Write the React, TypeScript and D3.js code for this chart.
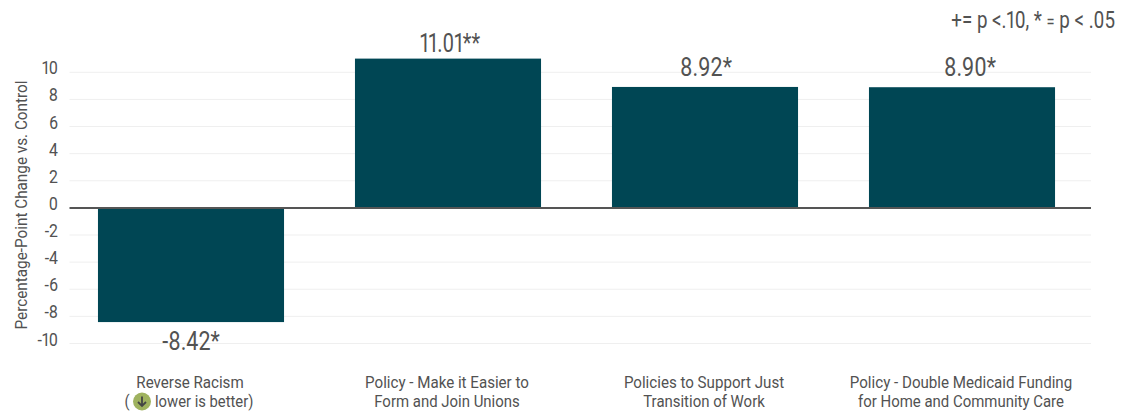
import React from "react";
import * as d3 from "d3";

const categories = ["Reverse Racism", "Policy - Make it Easier to", "Policies to Support Just", "Policy - Double Medicaid Funding"];
const secondLines = ["", "Form and Join Unions", "Transition of Work", "for Home and Community Care"];
const values = [-8.42, 11.01, 8.92, 8.9];
const valueLabels = ["-8.42*", "11.01**", "8.92*", "8.90*"];
const yTicks = [10, 8, 6, 4, 2, 0, -2, -4, -6, -8, -10];

const FONT = "Roboto, sans-serif";
const TEXT = "#525252";

// Roboto squeezed horizontally about its anchor point, to get a condensed grotesque look.
function Narrow({ x, y, k = 0.88, rotate = 0, anchor = "middle", size, children }: any) {
  return (
    <text
      transform={`translate(${x},${y}) rotate(${rotate}) scale(${k},1)`}
      textAnchor={anchor}
      fontSize={size}
      fill={TEXT}
      style={{ fontFeatureSettings: "'pnum'" }}
    >
      {children}
    </text>
  );
}

export default function App() {
  const y = d3.scaleLinear().domain([-10, 10]).range([343.5, 72.3]);
  const x = d3.scaleBand<number>().domain(d3.range(categories.length)).range([62.5, 1090.5]).paddingInner(0.276).paddingOuter(0.138);
  // The tallest bar's label sits closer to the bar so it stays under the note line.
  const labelY = (v: number) => (v < 0 ? y(v) + 28 : v > 10 ? y(v) - 7 : y(v) - 11);
  // Horizontal nudge of each value label away from its bar's centre.
  const labelDx = (i: number) => (i === 3 ? 8 : i === 2 || i === 1 ? (i === 1 ? 2 : 1) : 0);
  return (
    <svg width={1135} height={413} style={{ position: "absolute", left: 0, top: 0, display: "block" }} fontFamily={FONT}>
      <rect width={1135} height={413} fill="#fff" />
      {yTicks.filter((t) => t !== 0).map((t) => (
        <line key={t} x1={69.5} x2={1091} y1={y(t)} y2={y(t)} stroke="#efefef" strokeWidth={1} />
      ))}
      {yTicks.map((t) => (
        <Narrow key={t} x={58} y={y(t) + 2} anchor="end" size={18}>{t}</Narrow>
      ))}
      <Narrow x={27} y={205} rotate={-90} size={17} k={0.9}>Percentage-Point Change vs. Control</Narrow>
      {values.map((v, i) => (
        <rect key={i} x={x(i)} width={x.bandwidth()} y={Math.min(y(v), y(0))} height={Math.abs(y(v) - y(0))} fill="#004654" />
      ))}
      <line x1={69.5} x2={1091} y1={y(0)} y2={y(0)} stroke="#555" strokeWidth={2} />
      {values.map((v, i) => (
        <Narrow key={i} x={x(i)! + x.bandwidth() / 2 + labelDx(i)} y={labelY(v)} size={25} k={v > 10 ? 0.8 : 0.86}>{valueLabels[i]}</Narrow>
      ))}
      {categories.map((c, i) => {
        const cx = x(i)! + x.bandwidth() / 2;
        return (
          <g key={i}>
            <Narrow x={cx - 1} y={388} size={17} k={0.89}>{c}</Narrow>
            {i === 0 ? (
              <g>
                <Narrow x={127} y={407} size={17} k={0.87}>(</Narrow>
                <circle cx={142} cy={401.5} r={9} fill="#9fb25f" />
                <path d="M142 396.5v9.5M138 402l4 4l4 -4" fill="none" stroke="#444" strokeWidth={1.8} />
                <Narrow x={155} y={407} size={17} k={0.87} anchor="start">lower is better)</Narrow>
              </g>
            ) : (
              <Narrow x={cx - 1} y={407} size={17} k={0.88}>{secondLines[i]}</Narrow>
            )}
          </g>
        );
      })}
      <Narrow x={1115} y={27.5} anchor="end" size={23} k={0.815}>
        {"+= p <.10, * "}<tspan fontSize={18}>=</tspan>{" p < .05"}
      </Narrow>
    </svg>
  );
}
